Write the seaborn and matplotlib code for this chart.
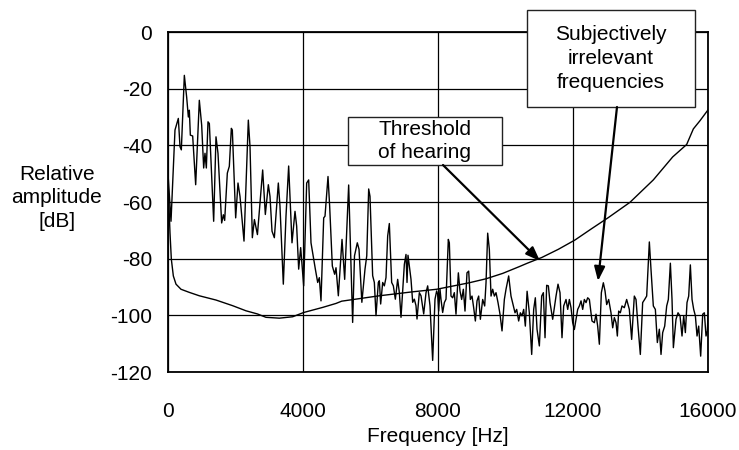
import matplotlib
matplotlib.use("Agg")
import matplotlib.pyplot as plt
import seaborn as sns
import pandas as pd
from matplotlib.patches import Rectangle

# ---- data ----
spec_hz = [0, 89, 207, 306, 356, 395, 484, 553, 603, 632, 662, 731, 820, 928, 998, 1057, 1096, 1136,
           1185, 1225, 1353, 1422, 1481, 1590, 1640, 1679, 1758, 1817, 1877, 1906, 2005, 2074, 2133,
           2252, 2380, 2430, 2499, 2560, 2650, 2805, 2884, 2973, 3022, 3082, 3151, 3269, 3318, 3417,
           3496, 3575, 3674, 3763, 3812, 3872, 3931, 4020, 4109, 4168, 4237, 4366, 4435, 4484, 4533,
           4613, 4652, 4741, 4790, 4869, 4938, 4978, 5047, 5156, 5235, 5353, 5471, 5526, 5609, 5660,
           5744, 5837, 5889, 5946, 5985, 6064, 6114, 6163, 6232, 6262, 6301, 6361, 6410, 6459, 6509,
           6558, 6627, 6677, 6736, 6805, 6855, 6904, 7003, 7052, 7082, 7111, 7200, 7250, 7299, 7348,
           7378, 7447, 7497, 7576, 7645, 7694, 7763, 7842, 7911, 7960, 7990, 8020, 8059, 8089, 8138,
           8188, 8237, 8306, 8336, 8385, 8435, 8484, 8533, 8603, 8652, 8701, 8751, 8800, 8859, 8909,
           8958, 9008, 9057, 9107, 9156, 9205, 9255, 9324, 9383, 9423, 9472, 9521, 9571, 9620, 9670,
           9719, 9778, 9837, 9897, 9966, 10015, 10094, 10163, 10232, 10282, 10331, 10390, 10440,
           10489, 10539, 10588, 10640, 10706, 10776, 10835, 10884, 10934, 11003, 11072, 11122, 11171,
           11220, 11270, 11319, 11398, 11497, 11556, 11615, 11674, 11724, 11793, 11843, 11892, 11941,
           11991, 12040, 12090, 12139, 12188, 12238, 12287, 12336, 12386, 12435, 12485, 12563, 12633,
           12682, 12731, 12781, 12840, 12899, 12949, 12998, 13057, 13126, 13176, 13225, 13275, 13314,
           13353, 13402, 13452, 13521, 13590, 13669, 13738, 13817, 13867, 13926, 13995, 14064, 14123,
           14183, 14262, 14311, 14380, 14440, 14499, 14558, 14608, 14657, 14717, 14776, 14825, 14885,
           14934, 14974, 15052, 15112, 15171, 15230, 15280, 15329, 15378, 15428, 15477, 15527, 15576,
           15626, 15675, 15724, 15783, 15843, 15892, 15941, 15981, 16000]
spec_db = [-50, -66.8, -34.6, -30.5, -40.5, -41.6, -15.3, -23, -30, -27.6, -36.4, -36.7, -53.9, -24.1,
           -32.9, -48, -42.8, -48, -31.7, -32.3, -66.8, -37, -42.8, -67.4, -64.5, -66.5, -49.8, -47.4,
           -34, -34.6, -65.6, -53.3, -58, -73.8, -31.1, -40.5, -72.6, -66.2, -71.5, -48.7, -64.4,
           -53.9, -58, -70.3, -72.6, -53.3, -61.5, -89, -65, -47.3, -74.4, -63.3, -68.5, -83.7,
           -76.1, -89.6, -53.3, -52.2, -74.4, -83.7, -88.4, -86.7, -94.9, -65.6, -65, -51, -61.5,
           -82.6, -85.5, -83.2, -93.1, -73.2, -87.3, -54, -102.5, -79, -74.4, -76.7, -95.4, -83.7,
           -79, -55.4, -58, -86, -88.4, -100.1, -88.4, -87.8, -96, -88.4, -89.6, -86.7, -72, -67.6,
           -88.4, -89.6, -94.3, -87.3, -92, -100.7, -82, -78.5, -88.4, -78.8, -87.3, -95.4, -94.3,
           -96.6, -101.3, -92, -93.1, -99.5, -92, -89.6, -96.6, -115.9, -94.3, -91.4, -92.6, -98.5,
           -90.8, -94.4, -99, -95.5, -94.3, -73.2, -74.4, -93.2, -93.8, -92, -99.6, -85, -91.4,
           -94.4, -90.8, -98.5, -85, -84.4, -94.4, -93.2, -97.3, -102, -94.9, -93.2, -101.4, -94.4,
           -96.7, -88.5, -71, -76.7, -93.2, -90.8, -93.2, -92, -95.5, -99.6, -105.5, -94.4, -90.8,
           -86.1, -93.2, -96.7, -99.1, -97.9, -102, -99.1, -100.2, -97.9, -103.8, -91.5, -99.1,
           -113.8, -97.9, -93.8, -104.9, -110.8, -93.2, -92, -107.9, -89.4, -89.6, -95.5, -101.4,
           -93.2, -89, -92, -107.9, -96.7, -94.4, -97.9, -94.4, -97.3, -102.6, -105, -101.4, -97.9,
           -96.7, -94.9, -97.9, -94.4, -95.5, -93.8, -94.4, -102, -102.6, -99.6, -103.8, -110.2, -92,
           -88.5, -91.4, -96.2, -94.4, -99.1, -104.4, -100.8, -102.6, -107.3, -98.5, -99.1, -96.7,
           -97.3, -94.4, -97.9, -108.5, -93.2, -94.4, -103.8, -113.8, -95.5, -94.4, -93.2, -74.1,
           -83.8, -96.7, -97.9, -109.6, -104.9, -113.8, -106.1, -103.8, -96.7, -94.4, -81.6, -94.4,
           -111.4, -101.4, -99.1, -100.2, -107.3, -100.2, -106.1, -95.5, -93.2, -82.2, -94.4, -97.9,
           -100.2, -107.3, -103.8, -114.4, -99.6, -99.1, -107.3, -105.5, -100]

thr_hz = [0, 59, 99, 158, 237, 385, 632, 928, 1422, 1916, 2311, 2647, 2903, 3299, 3694, 4020, 4583,
          4978, 5146, 6262, 7250, 7960, 8929, 9423, 9916, 10410, 10647, 11072, 11565, 12060, 12554,
          13047, 13689, 14380, 14953, 15368, 15566, 15763, 16000]
thr_db = [-52, -70.9, -80.2, -86.1, -89, -90.8, -91.9, -93.1, -94.6, -96.6, -98.4, -99.5, -100.7,
          -101, -100.5, -99, -97.2, -95.8, -95, -93.1, -91.7, -90.8, -88.5, -87.1, -85.2, -82.8,
          -81.6, -79.6, -76.7, -73.4, -69.4, -65.5, -60.1, -52.2, -44.1, -39.7, -34.2, -31.3, -27.5]

x_ticks = [0, 4000, 8000, 12000, 16000]
y_ticks = [0, -20, -40, -60, -80, -100, -120]
x_label = "Frequency [Hz]"
y_label = "Relative\namplitude\n[dB]"
note1 = "Threshold\nof hearing"
note2 = "Subjectively\nirrelevant\nfrequencies"

FS = 15

# ---- plot ----
sns.set_style("white")
plt.rcParams["font.family"] = ["Liberation Sans", "DejaVu Sans"]
plt.rcParams["text.color"] = "black"

fig = plt.figure(figsize=(7.39, 4.5), dpi=100)
ax = fig.add_axes([168/739, 1 - 372/450, 540/739, 340/450])

spec = pd.DataFrame({"hz": spec_hz, "db": spec_db})
thr = pd.DataFrame({"hz": thr_hz, "db": thr_db})
sns.lineplot(data=spec, x="hz", y="db", ax=ax, color="black", lw=1.0, sort=False, zorder=3)
sns.lineplot(data=thr, x="hz", y="db", ax=ax, color="black", lw=1.0, sort=False, zorder=3)

ax.set_xlim(0, 16000)
ax.set_ylim(-120, 0)
ax.set_xticks(x_ticks)
ax.set_yticks(y_ticks)
ax.set_xticklabels([str(v) for v in x_ticks])
ax.set_yticklabels([str(v) for v in y_ticks])
ax.tick_params(axis="both", length=0, labelsize=FS, colors="black")
ax.tick_params(axis="x", pad=21.5)
ax.tick_params(axis="y", pad=11.5)
ax.grid(True, color="black", lw=0.9)
ax.set_axisbelow(True)
for s in ax.spines.values():
    s.set_color("black")
    s.set_linewidth(1.3)
    s.set_visible(True)

ax.set_xlabel("")
ax.set_ylabel("")
fig.text(438/739, 1 - 437/450, x_label, ha="center", va="center", fontsize=FS, color="black")
fig.text(57/739, 1 - 198/450, y_label, ha="center", va="center", fontsize=FS,
         linespacing=1.3, color="black")

# annotation boxes (pixel -> data helpers)
def px2data(px, py):
    return ((px - 168) / 540 * 16000, -(py - 32) / 340 * 120)

def box(x0, y0, x1, y1, text):
    a = px2data(x0, y1)
    b = px2data(x1, y0)
    r = Rectangle(a, b[0] - a[0], b[1] - a[1], facecolor="white", edgecolor="#222222",
                  lw=1.0, zorder=5, clip_on=False)
    ax.add_patch(r)
    c = px2data((x0 + x1) / 2, (y0 + y1) / 2)
    ax.text(c[0], c[1], text, ha="center", va="center", fontsize=FS, zorder=6,
            linespacing=1.3, clip_on=False, color="black")

box(348, 117, 502, 165, note1)
box(527, 10, 695, 107, note2)

arrow = dict(arrowstyle="-|>,head_length=0.85,head_width=0.32", color="black", lw=1.6,
             shrinkA=0, shrinkB=0)
ax.annotate("", xy=px2data(540, 261), xytext=px2data(443, 165), arrowprops=arrow, zorder=7,
            annotation_clip=False)
ax.annotate("", xy=px2data(598, 281), xytext=px2data(617, 107), arrowprops=arrow, zorder=7,
            annotation_clip=False)

fig.savefig("out.png", dpi=100)
